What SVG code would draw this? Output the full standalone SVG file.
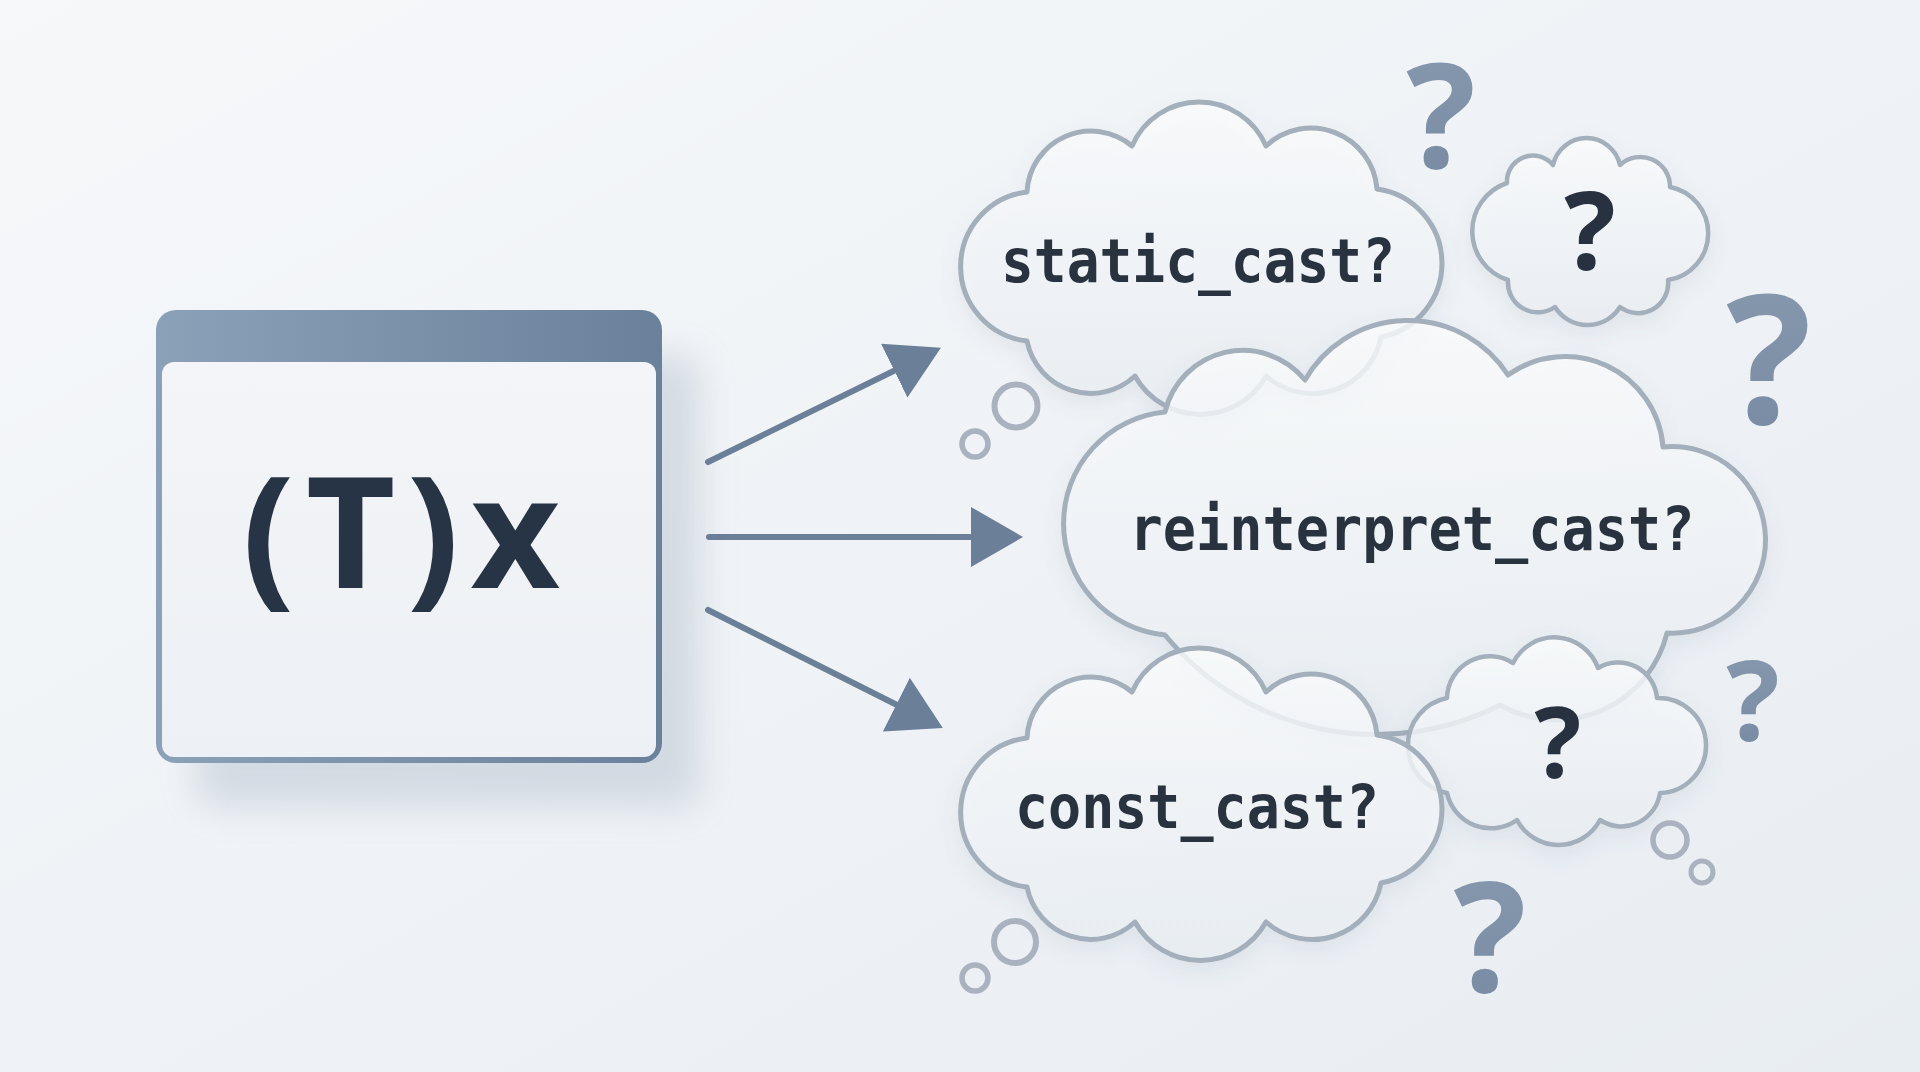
<svg xmlns="http://www.w3.org/2000/svg" width="1920" height="1072" viewBox="0 0 1920 1072">
<defs>
  <linearGradient id="bg" x1="0" y1="0" x2="1" y2="1">
    <stop offset="0" stop-color="#f6f8fa"/>
    <stop offset="1" stop-color="#e8edf2"/>
  </linearGradient>
  <linearGradient id="hdr" x1="0" y1="0" x2="1" y2="0">
    <stop offset="0" stop-color="#8ba1b8"/>
    <stop offset="1" stop-color="#6a819c"/>
  </linearGradient>
  <linearGradient id="body" x1="0" y1="0" x2="0" y2="1">
    <stop offset="0" stop-color="#f3f5f8"/>
    <stop offset="1" stop-color="#edf0f4"/>
  </linearGradient>
  <linearGradient id="cloudFill" x1="0" y1="0" x2="0" y2="1">
    <stop offset="0" stop-color="#fbfcfd" stop-opacity="0.8"/>
    <stop offset="1" stop-color="#e9eef3" stop-opacity="0.8"/>
  </linearGradient>
  <linearGradient id="qGrad" x1="0" y1="0" x2="0" y2="1">
    <stop offset="0" stop-color="#8a9bb0"/>
    <stop offset="1" stop-color="#7689a1"/>
  </linearGradient>
  <filter id="winShadow" x="-20%" y="-20%" width="150%" height="150%">
    <feGaussianBlur stdDeviation="18"/>
  </filter>
  <filter id="cloudShadow" x="-10%" y="-10%" width="120%" height="130%">
    <feDropShadow dx="0" dy="8" stdDeviation="10" flood-color="#5c6f88" flood-opacity="0.12"/>
  </filter>
  <marker id="head" viewBox="0 0 52 60" markerWidth="52" markerHeight="60" refX="22" refY="30" orient="auto" markerUnits="userSpaceOnUse">
    <path d="M0,0 L52,30 L0,60 Z" fill="#6b7f98"/>
  </marker>
  <style>
    .cloud { fill: url(#cloudFill); stroke: #a4afbc; stroke-width: 5; stroke-linejoin: round; filter: url(#cloudShadow); }
    .small { stroke-width: 4.5; }
    .mono { font-family: "DejaVu Sans Mono", "Liberation Mono", monospace; font-weight: 700; font-size: 60px; fill: #29323f; text-anchor: middle; }
    .q { font-family: "Open Sans", "DejaVu Sans", sans-serif; font-weight: 700; text-anchor: middle; }
    .qdark { fill: #27313f; }
    .qlight { fill: url(#qGrad); }
    .bubble { fill: none; stroke: #a9b2be; }
    .conn { stroke: #6b7f98; stroke-width: 6; stroke-linecap: round; fill: none; marker-end: url(#head); }
  </style>
</defs>

<rect x="0" y="0" width="1920" height="1072" fill="url(#bg)"/>

<g id="node-window">
  <rect x="196" y="355" width="504" height="452" rx="20" fill="#8a9bb0" opacity="0.28" filter="url(#winShadow)"/>
  <rect x="156" y="310" width="506" height="453" rx="20" fill="url(#hdr)"/>
  <rect x="162" y="362" width="494" height="395" rx="12" fill="url(#body)"/>
  <text x="401" y="588" font-family="Open Sans, DejaVu Sans, sans-serif" font-weight="700" font-size="155" textLength="318" lengthAdjust="spacing" text-anchor="middle" fill="#263445">(T)x</text>
</g>

<g id="connectors">
  <line class="conn" x1="708" y1="462" x2="914" y2="361"/>
  <line class="conn" x1="709" y1="537" x2="993" y2="537"/>
  <line class="conn" x1="708" y1="610" x2="916" y2="714.5"/>
</g>

<g id="node-static">
  <path class="cloud" d="M1027,341 A75,75 0 0 1 1027,192 A64,64 0 0 1 1132,146 A73,73 0 0 1 1266,146 A66,66 0 0 1 1377,189 A75,75 0 0 1 1381,337 A70,70 0 0 1 1266,376 A75,75 0 0 1 1135,376 A65,65 0 0 1 1027,341 Z"/>
  <text class="mono" x="1198" y="282" textLength="394" lengthAdjust="spacingAndGlyphs">static_cast?</text>
</g>

<g id="node-small-top">
  <path class="cloud small" d="M1508,280 A51,51 0 0 1 1507,183 A26,26 0 0 1 1553,165 A34.3,34.3 0 0 1 1620,165 A29.7,29.7 0 0 1 1670,187 A47.2,47.2 0 0 1 1668,280 A30,30 0 0 1 1620,307 A38.3,38.3 0 0 1 1555,307 A30,30 0 0 1 1508,280 Z"/>
  <text class="q qdark" x="1590" y="270" font-size="108">?</text>
</g>

<g id="node-reinterpret">
  <path class="cloud" d="M1165,635 A112,112 0 0 1 1165,412 A80,80 0 0 1 1305,380 A119,119 0 0 1 1508,375 A98,98 0 0 1 1663,447 A93.3,93.3 0 1 1 1667,633 A114,114 0 0 1 1500,705 A274,274 0 0 1 1165,635 Z"/>
  <text class="mono" x="1412" y="550" textLength="565" lengthAdjust="spacingAndGlyphs">reinterpret_cast?</text>
</g>

<g id="node-small-bottom">
  <path class="cloud small" d="M1447,793 A48.4,48.4 0 0 1 1447,698 A42.8,42.8 0 0 1 1513,663 A46.3,46.3 0 0 1 1598,668 A39,39 0 0 1 1657,698 A47.5,47.5 0 0 1 1660,793 A39,39 0 0 1 1600,820 A47,47 0 0 1 1517,820 A45,45 0 0 1 1447,793 Z"/>
  <text class="q qdark" x="1558" y="778" font-size="98">?</text>
</g>

<g id="node-const">
  <path class="cloud" d="M1027,887 A75,75 0 0 1 1027,738 A64,64 0 0 1 1132,692 A73,73 0 0 1 1266,692 A66,66 0 0 1 1377,735 A75,75 0 0 1 1381,883 A70,70 0 0 1 1266,922 A75,75 0 0 1 1135,922 A65,65 0 0 1 1027,887 Z"/>
  <text class="mono" x="1197" y="828" textLength="364" lengthAdjust="spacingAndGlyphs">const_cast?</text>
</g>

<g id="bubbles">
  <circle class="bubble" cx="1016" cy="406" r="21.5" stroke-width="6"/>
  <circle class="bubble" cx="975" cy="444" r="13" stroke-width="5.5"/>
  <circle class="bubble" cx="1015" cy="942" r="21" stroke-width="6"/>
  <circle class="bubble" cx="975" cy="978" r="13" stroke-width="5.5"/>
  <circle class="bubble" cx="1670" cy="840" r="17" stroke-width="5.5"/>
  <circle class="bubble" cx="1702" cy="872" r="11" stroke-width="5"/>
</g>

<g id="question-marks">
  <text class="q qlight" x="1441" y="168" font-size="146">?</text>
  <text class="q qlight" x="1769" y="424" font-size="179">?</text>
  <text class="q qlight" x="1753" y="741" font-size="112">?</text>
  <text class="q qlight" x="1490" y="992" font-size="153">?</text>
</g>
</svg>
